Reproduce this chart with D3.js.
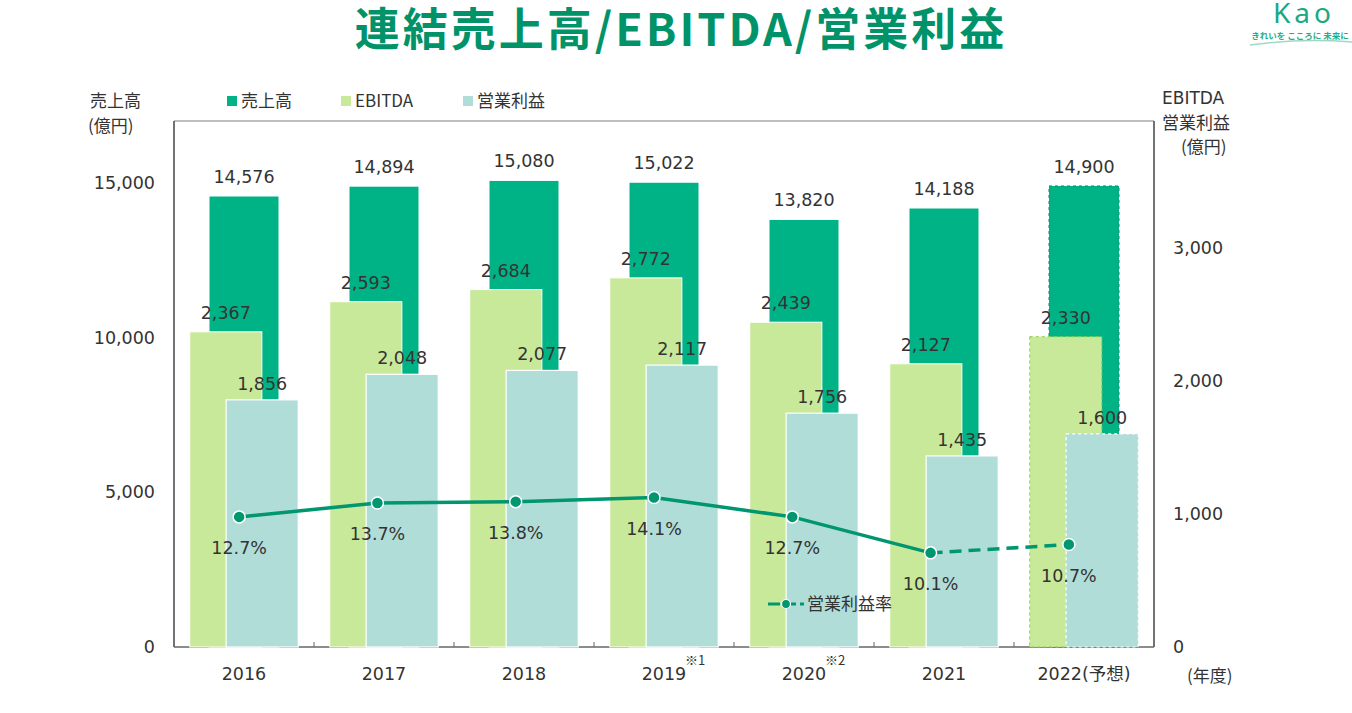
<!DOCTYPE html>
<html>
<head>
<meta charset="utf-8">
<script src="https://cdn.jsdelivr.net/npm/d3@7/dist/d3.min.js"></script>
<style>
  body { margin: 0; background: #fff; }
  text { font-family: "DejaVu Sans", "Noto Sans CJK JP", sans-serif; fill: #333; }
  .jp { font-family: "Noto Sans CJK JP", "DejaVu Sans", sans-serif; }
</style>
</head>
<body>
<script>
// data
const years = ["2016", "2017", "2018", "2019", "2020", "2021", "2022(予想)"];
const sales = [14576, 14894, 15080, 15022, 13820, 14188, 14900];
const ebitda = [2367, 2593, 2684, 2772, 2439, 2127, 2330];
const opProfit = [1856, 2048, 2077, 2117, 1756, 1435, 1600];
const opMargin = [12.7, 13.7, 13.8, 14.1, 12.7, 10.1, 10.7];
const leftTicks = [0, 5000, 10000, 15000];
const rightTicks = [0, 1000, 2000, 3000];
const yearNotes = ["", "", "", "※1", "※2", "", ""];
const forecastIndex = 6;

const W = 1352, H = 713;
const pL = 174, pR = 1154, pT = 121, pB = 647;

const colSales = "#00b386", colEbitda = "#c9e99a", colOp = "#b1ddd8", colLine = "#009670";
const fs = "17.5px";

const svg = d3.select("body").append("svg")
    .attr("width", W)
    .attr("height", H);

const x = d3.scaleBand().domain(years).range([pL, pR]);
// line series sits on its own category axis (slightly narrower, as in the original)
const xLine = d3.scaleBand().domain(years).range([170, 1138]);
const yL = d3.scaleLinear().domain([0, 17000]).range([pB, pT]);
const yR = d3.scaleLinear().domain([0, 3950]).range([pB, pT]);
const yP = d3.scaleLinear().domain([3.3, 41.3]).range([pB, pT]);

const fmt = d3.format(",");
const bw = x.bandwidth();

// title
svg.append("text")
    .attr("class", "jp")
    .attr("x", 681).attr("y", 46)
    .attr("text-anchor", "middle")
    .style("font-size", "45px")
    .style("font-weight", "bold")
    .style("letter-spacing", "3px")
    .style("fill", "#00936a")
    .text("連結売上高/EBITDA/営業利益");

// logo
const logo = svg.append("g");
logo.append("text")
    .attr("x", 1304).attr("y", 23)
    .attr("text-anchor", "middle")
    .style("font-family", "'Noto Sans', sans-serif")
    .style("font-size", "28px")
    .style("letter-spacing", "4px")
    .style("fill", "#1aa985")
    .text("Kao");
logo.append("text")
    .attr("class", "jp")
    .attr("x", 1300).attr("y", 39)
    .attr("text-anchor", "middle")
    .style("font-size", "8.5px")
    .style("font-weight", "bold")
    .style("fill", "#1fae88")
    .text("きれいを こころに 未来に");
logo.append("path")
    .attr("d", "M1250,45 Q1300,38 1352,42")
    .attr("fill", "none")
    .attr("stroke", "#9fd9c6")
    .attr("stroke-width", 1.5);

// frame
svg.append("line").attr("x1", pL).attr("x2", pR).attr("y1", pT).attr("y2", pT)
    .attr("stroke", "#aaa").attr("stroke-width", 1.5);
svg.append("line").attr("x1", pL).attr("x2", pL).attr("y1", pT).attr("y2", pB)
    .attr("stroke", "#444").attr("stroke-width", 1.5);
svg.append("line").attr("x1", pR).attr("x2", pR).attr("y1", pT).attr("y2", pB)
    .attr("stroke", "#444").attr("stroke-width", 1.5);
svg.append("line").attr("x1", pL).attr("x2", pR).attr("y1", pB).attr("y2", pB)
    .attr("stroke", "#666").attr("stroke-width", 1.5);
svg.selectAll(".xtick")
    .data(years.slice(1))
    .enter().append("line")
    .attr("x1", d => x(d)).attr("x2", d => x(d))
    .attr("y1", pB).attr("y2", pB - 5)
    .attr("stroke", "#666");

// axes (tick text only)
const axL = svg.append("g")
    .attr("transform", `translate(${pL - 16},0)`)
    .call(d3.axisLeft(yL).tickValues(leftTicks).tickFormat(fmt).tickSize(0));
const axR = svg.append("g")
    .attr("transform", `translate(${pR + 16},0)`)
    .call(d3.axisRight(yR).tickValues(rightTicks).tickFormat(fmt).tickSize(0));
[axL, axR].forEach(a => {
    a.select(".domain").remove();
    a.selectAll("text")
        .style("font-family", "'DejaVu Sans', sans-serif")
        .style("font-size", fs)
        .style("fill", "#333");
});

// axis titles
const title = (t, tx, ty) => svg.append("text").attr("class", "jp")
    .attr("x", tx).attr("y", ty).style("font-size", "17px").text(t);
title("売上高", 90, 107);
title("(億円)", 88, 132);
svg.append("text").attr("x", 1162).attr("y", 104)
    .style("font-size", "17px").text("EBITDA");
title("営業利益", 1162, 129);
title("(億円)", 1181, 153);
title("(年度)", 1187, 682);

// x labels
svg.selectAll(".xlab")
    .data(years)
    .enter().append("text")
    .attr("x", d => x(d) + bw / 2)
    .attr("y", 680)
    .attr("text-anchor", "middle")
    .style("font-size", fs)
    .text(d => d);
svg.selectAll(".xnote")
    .data(years.filter((d, i) => yearNotes[i]))
    .enter().append("text")
    .attr("class", "jp")
    .attr("x", d => x(d) + bw / 2 + 21)
    .attr("y", 665)
    .style("font-size", "13px")
    .text(d => yearNotes[years.indexOf(d)]);

// bars
const isF = i => i === forecastIndex;
const sw = bw * 0.5, pw = bw * 0.515, off = bw * 0.13;

svg.selectAll(".sales")
    .data(sales)
    .enter().append("rect")
    .attr("x", (d, i) => x(years[i]) + (bw - sw) / 2)
    .attr("y", d => yL(d))
    .attr("width", sw)
    .attr("height", d => pB - yL(d))
    .attr("fill", colSales)
    .attr("stroke", (d, i) => isF(i) ? "#0a8f66" : "#fff")
    .attr("stroke-dasharray", (d, i) => isF(i) ? "3,3" : null)
    .attr("stroke-width", 1);

svg.selectAll(".ebitda")
    .data(ebitda)
    .enter().append("rect")
    .attr("x", (d, i) => x(years[i]) + bw / 2 - off - pw / 2)
    .attr("y", d => yR(d))
    .attr("width", pw)
    .attr("height", d => pB - yR(d))
    .attr("fill", colEbitda)
    .attr("stroke", (d, i) => isF(i) ? "#8acd4a" : "#fff")
    .attr("stroke-dasharray", (d, i) => isF(i) ? "3,3" : null)
    .attr("stroke-width", 1);

svg.selectAll(".op")
    .data(opProfit)
    .enter().append("rect")
    .attr("x", (d, i) => x(years[i]) + bw / 2 + off - pw / 2)
    .attr("y", d => yR(d))
    .attr("width", pw)
    .attr("height", d => pB - yR(d))
    .attr("fill", colOp)
    .attr("stroke", "#fff")
    .attr("stroke-dasharray", (d, i) => isF(i) ? "3,3" : null)
    .attr("stroke-width", 1.2);

// bar labels
const lab = (data, sc, dx, dy) => svg.selectAll(null)
    .data(data)
    .enter().append("text")
    .attr("x", (d, i) => x(years[i]) + bw / 2 + dx)
    .attr("y", d => sc(d) + dy)
    .attr("text-anchor", "middle")
    .style("font-size", fs)
    .text(d => fmt(d));
lab(sales, yL, 0, -13);
lab(ebitda, yR, -off, -13);
lab(opProfit, yR, off, -10);

// margin line
const cxLine = i => xLine(years[i]) + xLine.bandwidth() / 2;
svg.append("path")
    .datum(opMargin.slice(0, forecastIndex))
    .attr("d", d3.line().x((d, i) => cxLine(i)).y(d => yP(d)))
    .attr("fill", "none")
    .attr("stroke", colLine)
    .attr("stroke-width", 3.5);
svg.append("path")
    .datum(opMargin.slice(forecastIndex - 1))
    .attr("d", d3.line().x((d, i) => cxLine(i + forecastIndex - 1)).y(d => yP(d)))
    .attr("fill", "none")
    .attr("stroke", colLine)
    .attr("stroke-width", 3.5)
    .attr("stroke-dasharray", "12,7");
svg.selectAll(".pt")
    .data(opMargin)
    .enter().append("circle")
    .attr("cx", (d, i) => cxLine(i))
    .attr("cy", d => yP(d))
    .attr("r", 6)
    .attr("fill", colLine)
    .attr("stroke", "#fff")
    .attr("stroke-width", 1.5);
svg.selectAll(".pl")
    .data(opMargin)
    .enter().append("text")
    .attr("x", (d, i) => cxLine(i))
    .attr("y", d => yP(d) + 37)
    .attr("text-anchor", "middle")
    .style("font-size", fs)
    .text(d => d.toFixed(1) + "%");

// legend (top)
const legendItems = [
    { name: "売上高", color: colSales, x: 227 },
    { name: "EBITDA", color: colEbitda, x: 341 },
    { name: "営業利益", color: colOp, x: 463 }
];
const lg = svg.selectAll(".lg")
    .data(legendItems)
    .enter().append("g")
    .attr("transform", d => `translate(${d.x},101)`);
lg.append("rect")
    .attr("x", 0).attr("y", -5)
    .attr("width", 10).attr("height", 10)
    .attr("fill", d => d.color);
lg.append("text")
    .attr("class", "jp")
    .attr("x", 14).attr("y", 6)
    .style("font-size", "17px")
    .text(d => d.name);

// legend (line)
const ll = svg.append("g").attr("transform", "translate(768,604)");
ll.append("line").attr("x1", 0).attr("x2", 36).attr("y1", 0).attr("y2", 0)
    .attr("stroke", colLine).attr("stroke-width", 3).attr("stroke-dasharray", "12,4");
ll.append("circle").attr("cx", 18).attr("cy", 0).attr("r", 4.5)
    .attr("fill", colLine).attr("stroke", "#fff").attr("stroke-width", 1.2);
ll.append("text").attr("class", "jp").attr("x", 39).attr("y", 6)
    .style("font-size", "17px").text("営業利益率");
</script>
</body>
</html>
